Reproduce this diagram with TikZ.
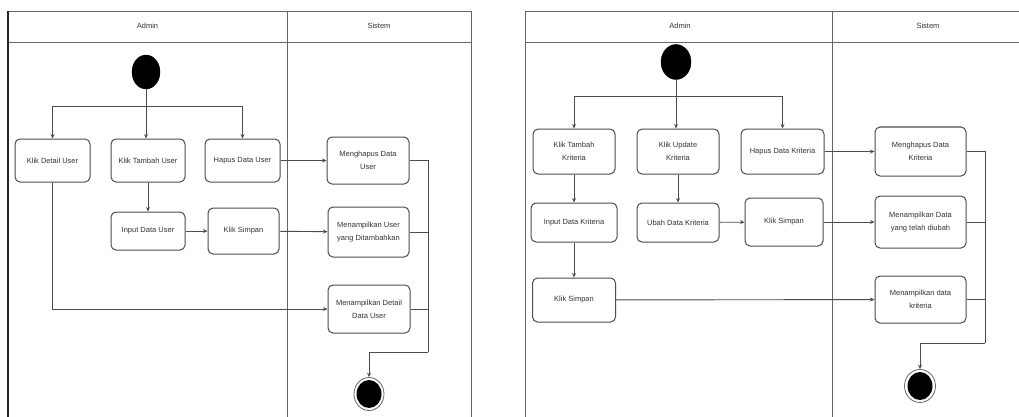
\documentclass[tikz,border=0pt]{standalone}
\usepackage{fontspec}
\setmainfont{Liberation Sans}
\usetikzlibrary{arrows.meta,shapes.geometric}
\begin{document}
\begin{tikzpicture}[x=1pt,y=-1pt,
  txt/.style={font=\fontsize{7.5}{13}\selectfont, text=black!80},
  act/.style={draw=black!70, line width=1pt, rounded corners=5pt, fill=white, align=center, inner sep=1pt, txt},
  startnode/.style={ellipse, fill=black, draw=black, inner sep=0pt},
  endnode/.style={ellipse, draw=black!60, line width=0.8pt, fill=white, inner sep=0pt, path picture={\fill[black] (path picture bounding box.center) ellipse (12.5pt and 14pt);}},
  conn/.style={draw=black!70, line width=0.9pt},
  arr/.style={conn, -{Stealth[length=4.5pt,width=4pt]}},
  lane/.style={draw=black!60, line width=0.9pt},
  lanehead/.style={txt}
]
\useasboundingbox (0,0) rectangle (1019,417);
\clip (0,0) rectangle (1019,417);
\fill[white] (0,0) rectangle (1019,417);

% ---------- Left diagram frame ----------
\draw[lane] (8,11) -- (471,11) -- (471,420);
\draw[lane] (8,42) -- (471,42);
\draw[lane] (287,11) -- (287,420);
\draw[draw=black!85, line width=1.6pt] (8,11) -- (8,420);
\node[lanehead] (hAdminL) at (147.5,26) {Admin};
\node[lanehead] (hSistemL) at (379,26) {Sistem};

% ---------- Right diagram frame ----------
\draw[lane] (525,420) -- (525,11) -- (1025,11);
\draw[lane] (525,42) -- (1025,42);
\draw[lane] (832,11) -- (832,420);
\node[lanehead] (hAdminR) at (680,26) {Admin};
\node[lanehead] (hSistemR) at (928,26) {Sistem};

% ---------- Left nodes ----------
\node[startnode, minimum width=28pt, minimum height=34pt] (startL) at (146,72) {};
\node[act, minimum width=75pt, minimum height=43pt] (detL) at (52.5,160.5) {Klik Detail User};
\node[act, minimum width=74pt, minimum height=43pt] (tamL) at (148,160.5) {Klik Tambah User};
\node[act, minimum width=75pt, minimum height=43pt] (hapL) at (242.5,160.5) {Hapus Data User};
\node[act, minimum width=82pt, minimum height=47pt] (mhapL) at (368,160.5) {Menghapus Data\\User};
\node[act, minimum width=74pt, minimum height=38pt] (inpL) at (148,231) {Input Data User};
\node[act, minimum width=71pt, minimum height=46pt] (simL) at (243.5,231) {Klik Simpan};
\node[act, minimum width=81pt, minimum height=50pt] (mtamL) at (368.5,232) {Menampilkan User\\yang Ditambahkan};
\node[act, minimum width=82pt, minimum height=48pt] (mdetL) at (369,309) {Menampilkan Detail\\Data User};
\node[endnode, minimum width=30pt, minimum height=33pt] (endL) at (369,394) {};
\coordinate (brL) at (146,106);
\coordinate (mgL) at (428,352);

% ---------- Left connectors ----------
\draw[arr] (startL) -- (startL |- tamL.north);
\draw[conn] (detL.north |- brL) -- (hapL.north |- brL);
\draw[arr] (detL.north |- brL) -- (detL.north);
\draw[arr] (hapL.north |- brL) -- (hapL.north);
\draw[arr] (tamL) -- (inpL);
\draw[arr] (inpL) -- (simL);
\draw[arr] (simL) -- (mtamL);
\draw[arr] (hapL) -- (mhapL);
\draw[arr] (detL.south) |- (mdetL.west);
\draw[conn] (mhapL.east) -| (mgL);
\draw[conn] (mtamL.east) -- (mtamL.east -| mgL);
\draw[conn] (mdetL.east) -- (mdetL.east -| mgL);
\draw[arr] (mgL) -| (endL.north);

% ---------- Right nodes ----------
\node[startnode, minimum width=30pt, minimum height=35pt] (startR) at (676,62) {};
\node[act, minimum width=82pt, minimum height=45pt] (ktamR) at (574,151.5) {Klik Tambah\\Kriteria};
\node[act, minimum width=82pt, minimum height=45pt] (kupdR) at (678,151.5) {Klik Update\\Kriteria};
\node[act, minimum width=83pt, minimum height=45pt] (hapR) at (782.5,151.5) {Hapus Data Kriteria};
\node[act, minimum width=91pt, minimum height=49pt] (mhapR) at (920.5,151.5) {Menghapus Data\\Kriteria};
\node[act, minimum width=86pt, minimum height=39pt] (inpR) at (574,222.5) {Input Data Kriteria};
\node[act, minimum width=82pt, minimum height=39pt] (ubahR) at (678,222.5) {Ubah Data Kriteria};
\node[act, minimum width=78pt, minimum height=48pt] (simR) at (784,222) {Klik Simpan};
\node[act, minimum width=91pt, minimum height=52pt] (mubR) at (920.5,222) {Menampilkan Data\\yang telah diubah};
\node[act, minimum width=83pt, minimum height=44pt] (sim2R) at (574,300) {Klik Simpan};
\node[act, minimum width=91pt, minimum height=47pt] (mkrR) at (920.5,299.5) {Menampilkan data\\kriteria};
\node[endnode, minimum width=31pt, minimum height=33pt] (endR) at (920,386) {};
\coordinate (brR) at (676,96);
\coordinate (mgR) at (985,343);

% ---------- Right connectors ----------
\draw[arr] (startR) -- (startR |- kupdR.north);
\draw[conn] (ktamR.north |- brR) -- (hapR.north |- brR);
\draw[arr] (ktamR.north |- brR) -- (ktamR.north);
\draw[arr] (hapR.north |- brR) -- (hapR.north);
\draw[arr] (ktamR) -- (inpR);
\draw[arr] (kupdR) -- (ubahR);
\draw[arr] (inpR) -- (sim2R);
\draw[arr] (ubahR) -- (simR);
\draw[arr] (hapR) -- (mhapR);
\draw[arr] (simR) -- (mubR);
\draw[arr] (sim2R) -- (mkrR);
\draw[conn] (mhapR.east) -| (mgR);
\draw[conn] (mubR.east) -- (mubR.east -| mgR);
\draw[conn] (mkrR.east) -- (mkrR.east -| mgR);
\draw[arr] (mgR) -| (endR.north);
\end{tikzpicture}
\end{document}
